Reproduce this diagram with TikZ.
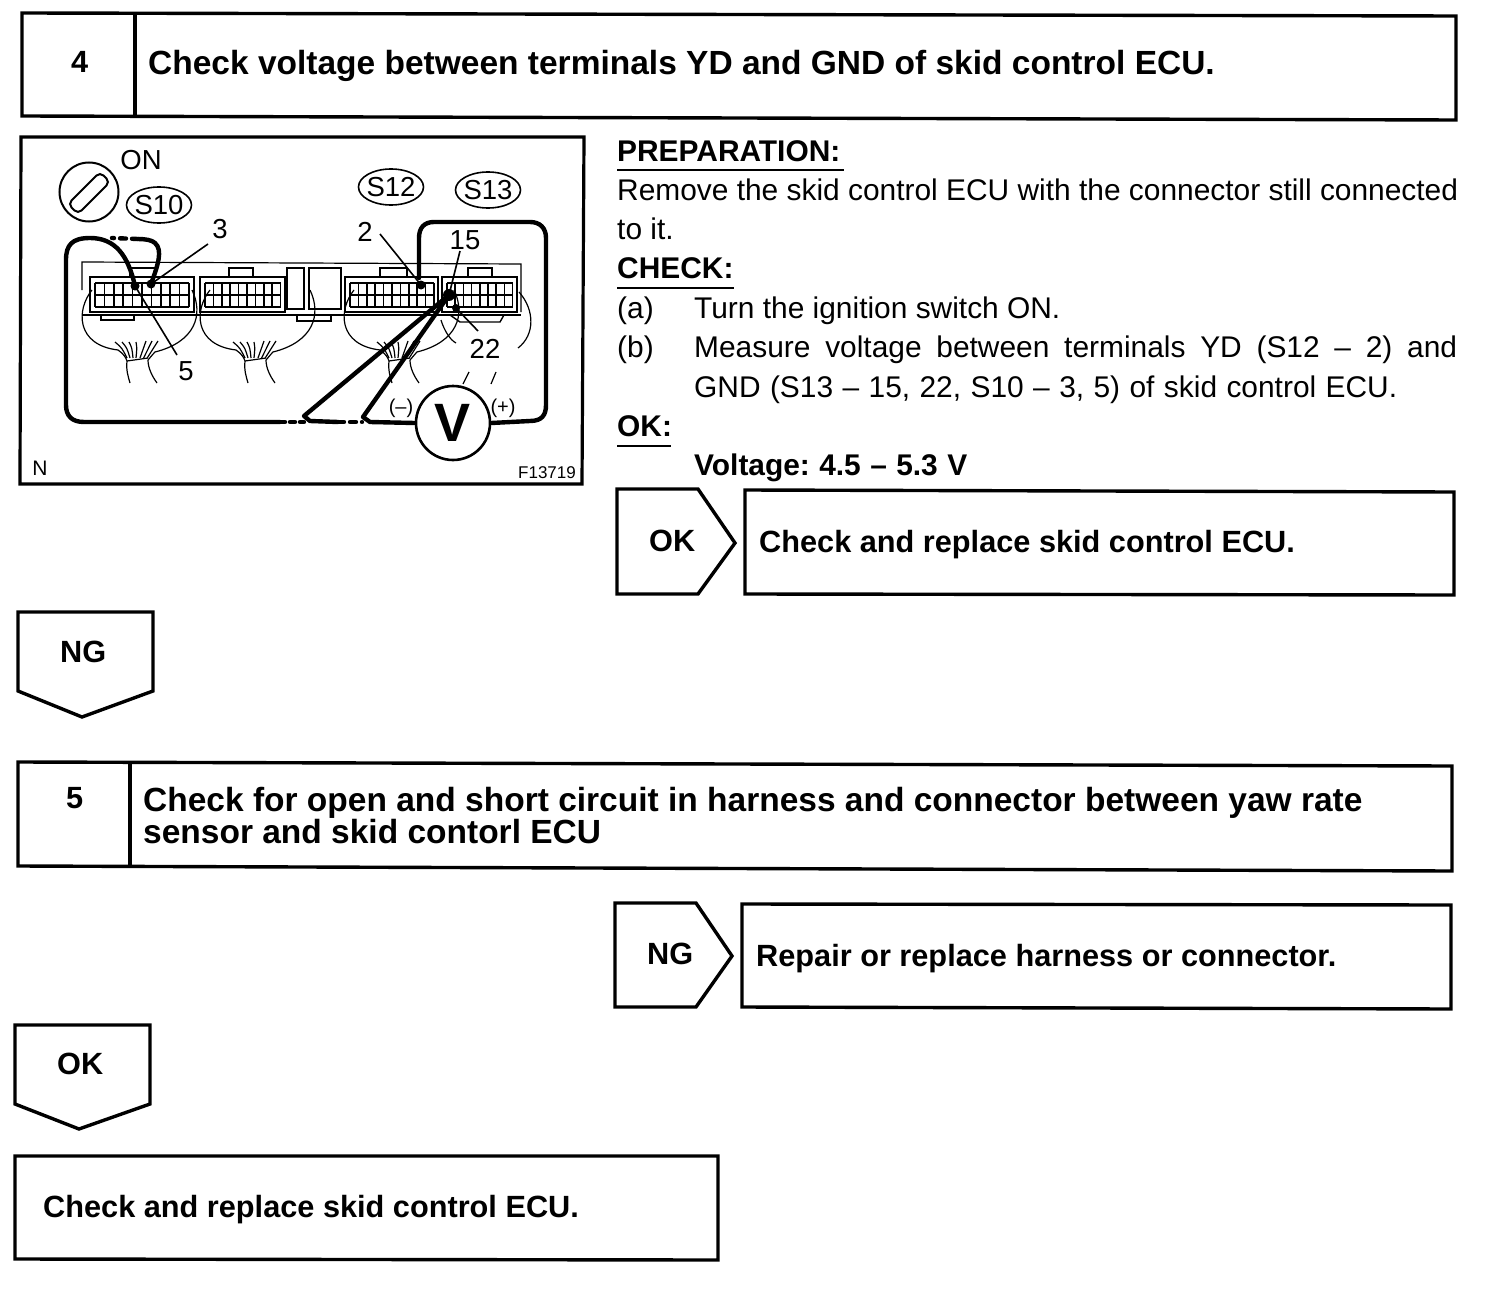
\documentclass[tikz,border=0pt]{standalone}
\usepackage{fontspec}
\setmainfont{Liberation Sans}
\usetikzlibrary{arrows.meta,shapes.geometric}
\frenchspacing
\tikzset{
  boxline/.style={draw,line width=3.4pt,line join=miter},
  title/.style={font=\fontsize{33.5}{33.5}\selectfont\bfseries,anchor=west,inner sep=0pt,align=left},
  titlesm/.style={font=\fontsize{30.7}{30.7}\selectfont\bfseries,anchor=west,inner sep=0pt,align=left},
  body/.style={font=\fontsize{29.9}{29.9}\selectfont,anchor=west,inner sep=0pt},
  bodyb/.style={font=\fontsize{29.9}{29.9}\selectfont\bfseries,anchor=west,inner sep=0pt},
  pinlabel/.style={font=\fontsize{27.5}{27.5}\selectfont,inner sep=0pt},
  connoval/.style={pinlabel,draw,ellipse,line width=1.6pt,inner sep=-4pt,minimum width=65pt,minimum height=36pt},
  wire/.style={draw,line width=4.4pt,line join=round,line cap=round},
}
% one connector block: x, y of corner, columns, cell width
\newcommand{\cblock}[4]{%
  \foreach \i in {0,...,#3}{\draw[line width=1.5pt] (#1+5+\i*#4,#2+6) -- ++(0,24);}
  \draw[line width=1.5pt] (#1+5,#2+6) -- ++(#3*#4,0);
  \draw[line width=1.5pt] (#1+5,#2+18) -- ++(#3*#4,0);
  \draw[line width=1.5pt] (#1+5,#2+30) -- ++(#3*#4,0);
}
% harness loom under a connector
\newcommand{\loom}[1]{%
  \draw[line width=1.2pt] (#1+12,290) .. controls (#1-4,310) and (#1-4,345) .. (#1+38,350) .. controls (#1+44,354) and (#1+46,358) .. (#1+47,361);
  \draw[line width=1.2pt] (#1+112,290) .. controls (#1+124,315) and (#1+115,342) .. (#1+75,352) .. controls (#1+72,355) and (#1+70,358) .. (#1+68,360);
  \draw[line width=1.2pt] (#1+47,361) -- (#1+68,358);
  \draw[line width=1.2pt] (#1+47,361) .. controls (#1+46,370) and (#1+48,376) .. (#1+50,383);
  \draw[line width=1.2pt] (#1+68,360) .. controls (#1+68,368) and (#1+72,376) .. (#1+77,383);
  \foreach \a in {0,5,10,15}{\draw[line width=1.2pt] (#1+47+\a*.6,358) .. controls (#1+42+\a,348) .. (#1+35+\a*1.4,342);}
  \foreach \a in {0,6,12}{\draw[line width=1.2pt] (#1+60+\a*.6,358) -- (#1+66+\a,341);}
}
\begin{document}
\begin{tikzpicture}[x=1pt,y=-1pt]
  \useasboundingbox (0,0) rectangle (1504,1292);
  \fill[white] (0,0) rectangle (1504,1292);
  % step 4
  \draw[boxline] (22,13) -- (1456,16) -- (1456,120) -- (22,116) -- cycle;
  \draw[boxline] (135,14) -- (135,117);
  \node[titlesm] (no4) at (71,62) {4};
  \node[title] (head4) at (148,66) {Check voltage between terminals YD and GND of skid control ECU.};
  % figure
  \draw[line width=3.2pt] (21,137) -- (584,137) -- (582,484) -- (20,484) -- cycle;
  \draw[line width=2pt] (89,192) circle (29.5);
  \draw[line width=2pt,rounded corners=5pt] (68,204) -- (100,172) -- (110,182) -- (78,214) -- cycle;
  \node[pinlabel] (on) at (141,160) {ON};
  \node[connoval] (s10) at (159,205) {S10};
  \node[connoval] (s12) at (391,187) {S12};
  \node[connoval] (s13) at (488,190) {S13};
  % housing
  \draw[line width=1.2pt] (82,290) -- (82,262) -- (521,264) -- (521,312);
  \draw[line width=2.4pt] (82,315) -- (521,315);
  \draw[line width=1.4pt] (101,315) -- (101,320) -- (134,320) -- (134,315);
  \draw[line width=1.4pt] (297,315) -- (297,321) -- (331,321) -- (331,315);
  \draw[line width=1.4pt] (287,268) rectangle (304,309);
  \draw[line width=1.4pt] (309,268) rectangle (341,309);
  \draw[line width=1.4pt] (450,315) -- (460,322) -- (500,322) -- (504,315);
  % connectors
  \draw[line width=2.8pt] (90,277) -- (194,277) -- (194,312) -- (90,312) -- cycle;
  \cblock{90}{277}{10}{9.4}
  \draw[line width=1.4pt] (130,277) -- (130,268) -- (155,268) -- (155,277);
  \draw[line width=1.6pt] (200,277) -- (285,277) -- (285,312) -- (200,312) -- cycle;
  \cblock{200}{277}{9}{8.4}
  \draw[line width=1.4pt] (229,277) -- (229,268) -- (253,268) -- (253,277);
  \draw[line width=1.6pt] (345,277) -- (438,277) -- (438,312) -- (345,312) -- cycle;
  \cblock{345}{277}{10}{8.4}
  \draw[line width=1.4pt] (380,277) -- (380,268) -- (407,268) -- (407,277);
  \draw[line width=2.8pt] (442,277) -- (517,277) -- (517,312) -- (442,312) -- cycle;
  \cblock{442}{277}{8}{8.2}
  \draw[line width=1.4pt] (468,277) -- (468,268) -- (492,268) -- (492,277);
  \loom{80}
  \loom{198}
  \loom{342}
  % loose harness end of S13
  \draw[line width=1.2pt] (519,292) .. controls (535,310) and (535,335) .. (518,348);
  \draw[line width=1.2pt] (441,320) .. controls (444,330) and (450,340) .. (456,343);
  \draw[line width=1.2pt] (469,372) -- (463,384);
  \draw[line width=1.2pt] (496,372) -- (491,384);
  % leaders and pin numbers
  \node[pinlabel] (n3) at (220,229) {3};
  \node[pinlabel] (n5) at (186,371) {5};
  \node[pinlabel] (n2) at (365,232) {2};
  \node[pinlabel] (n15) at (465,240) {15};
  \node[pinlabel] (n22) at (485,349) {22};
  \coordinate (p3) at (151,284);
  \coordinate (p5) at (135,286);
  \coordinate (p2) at (421,285);
  \coordinate (p15) at (449,295);
  \coordinate (p22) at (456,308);
  \draw[line width=1.6pt] (p3) -- (208,244);
  \draw[line width=1.6pt] (p5) -- (177,355);
  \draw[line width=1.6pt] (p2) -- (380,234);
  \draw[line width=1.6pt] (p15) -- (460,251);
  \draw[line width=1.6pt] (p22) -- (478,331);
  \fill (p3) circle (4.5);
  \fill (p5) circle (4.5);
  \fill (p2) circle (4.5);
  \fill (p15) circle (6);
  \fill (p22) circle (4);
  % meter and test leads
  \node[draw,circle,line width=2.6pt,minimum size=74pt,inner sep=0pt,font=\fontsize{54}{54}\selectfont\bfseries] (volt) at (453,423) {V};
  \node[pinlabel,font=\fontsize{20}{20}\selectfont] (neg) at (401,408) {(--)};
  \node[pinlabel,font=\fontsize{20}{20}\selectfont] (pos) at (503,408) {(+)};
  \draw[wire] (volt.west) -- (370,422) -- (363,417) -- (p15);
  \draw[wire] (volt.east) -- (530,421) .. controls (542,421) and (546,415) .. (546,405) -- (546,238) .. controls (546,228) and (540,222) .. (530,222) -- (434,222) .. controls (424,222) and (419,228) .. (419,238) -- (419,278);
  \draw[wire] (p15) -- (304,416) -- (310,421) -- (338,422);
  \draw[wire,dash pattern=on 6pt off 6pt] (338,422) -- (362,422);
  \draw[wire] (p5) .. controls (128,255) and (115,238) .. (90,238) .. controls (72,238) and (66,245) .. (66,260) -- (66,405) .. controls (66,416) and (72,422) .. (84,422) -- (280,422);
  \draw[wire,dash pattern=on 5pt off 5pt] (280,422) -- (304,422);
  \draw[wire] (p3) .. controls (158,265) and (163,250) .. (155,243) .. controls (152,240) and (145,239) .. (138,239);
  \draw[wire,dash pattern=on 6pt off 6pt] (138,239) -- (112,238);
  \node[font=\fontsize{21}{21}\selectfont,inner sep=0pt] (figN) at (40,468) {N};
  \node[font=\fontsize{17}{17}\selectfont,inner sep=0pt] (figno) at (547,473) {F13719};
  % text column
  \node[bodyb] (prep) at (617,151) {PREPARATION:};
  \draw[line width=1.2pt] (617,170) -- (844,170);
  \node[body] (t1) at (617,190) {Remove the skid control ECU with the connector still connected};
  \node[body] (t2) at (617,229) {to it.};
  \node[bodyb] (check) at (617,268) {CHECK:};
  \draw[line width=1.2pt] (617,288) -- (734,288);
  \node[body] (ta) at (617,311) {(a)};
  \node[body] (ta2) at (694,311) {Turn the ignition switch ON.};
  \node[body] (tb) at (617,350) {(b)};
  \node[body] (tb2) at (694,350) {\makebox[763pt][s]{Measure voltage between terminals YD (S12 -- 2) and}};
  \node[body] (tb3) at (694,390) {\makebox[703pt][s]{GND (S13 -- 15, 22, S10 -- 3, 5) of skid control ECU.}};
  \node[bodyb] (ok) at (617,426) {OK:};
  \draw[line width=1.2pt] (617,446) -- (671,446);
  \node[bodyb] (volts) at (694,468) {\makebox[273pt][s]{Voltage: 4.5 -- 5.3 V}};
  % OK branch of step 4
  \draw[boxline] (617,489) -- (698,489) -- (735,543) -- (698,594) -- (617,594) -- cycle;
  \node[titlesm] (ok4) at (649,541) {OK};
  \draw[boxline] (745,490) -- (1454,492) -- (1454,595) -- (745,594) -- cycle;
  \node[titlesm] (okbox) at (759,545) {Check and replace skid control ECU.};
  % NG arrow
  \draw[boxline] (18,612) -- (153,612) -- (153,691) -- (82,717) -- (18,691) -- cycle;
  \node[titlesm] (ng4) at (60,652) {NG};
  % step 5
  \draw[boxline] (18,762) -- (1452,766) -- (1452,871) -- (18,866) -- cycle;
  \draw[boxline] (130,763) -- (130,867);
  \node[titlesm] (no5) at (66,798) {5};
  \node[title] (head5a) at (143,803) {Check for open and short circuit in harness and connector between yaw rate};
  \node[title] (head5b) at (143,832) {sensor and skid contorl ECU};
  % NG branch of step 5
  \draw[boxline] (615,903) -- (696,903) -- (732,956) -- (696,1007) -- (615,1007) -- cycle;
  \node[titlesm] (ng5) at (647,954) {NG};
  \draw[boxline] (742,904) -- (1451,905) -- (1451,1009) -- (742,1007) -- cycle;
  \node[titlesm] (ngbox) at (756,959) {Repair or replace harness or connector.};
  % OK arrow
  \draw[boxline] (15,1025) -- (150,1025) -- (150,1104) -- (79,1129) -- (15,1104) -- cycle;
  \node[titlesm] (ok5) at (57,1064) {OK};
  % last box
  \draw[boxline] (15,1156) -- (718,1156) -- (718,1260) -- (15,1259) -- cycle;
  \node[titlesm] (lastbox) at (43,1210) {Check and replace skid control ECU.};
\end{tikzpicture}
\end{document}
